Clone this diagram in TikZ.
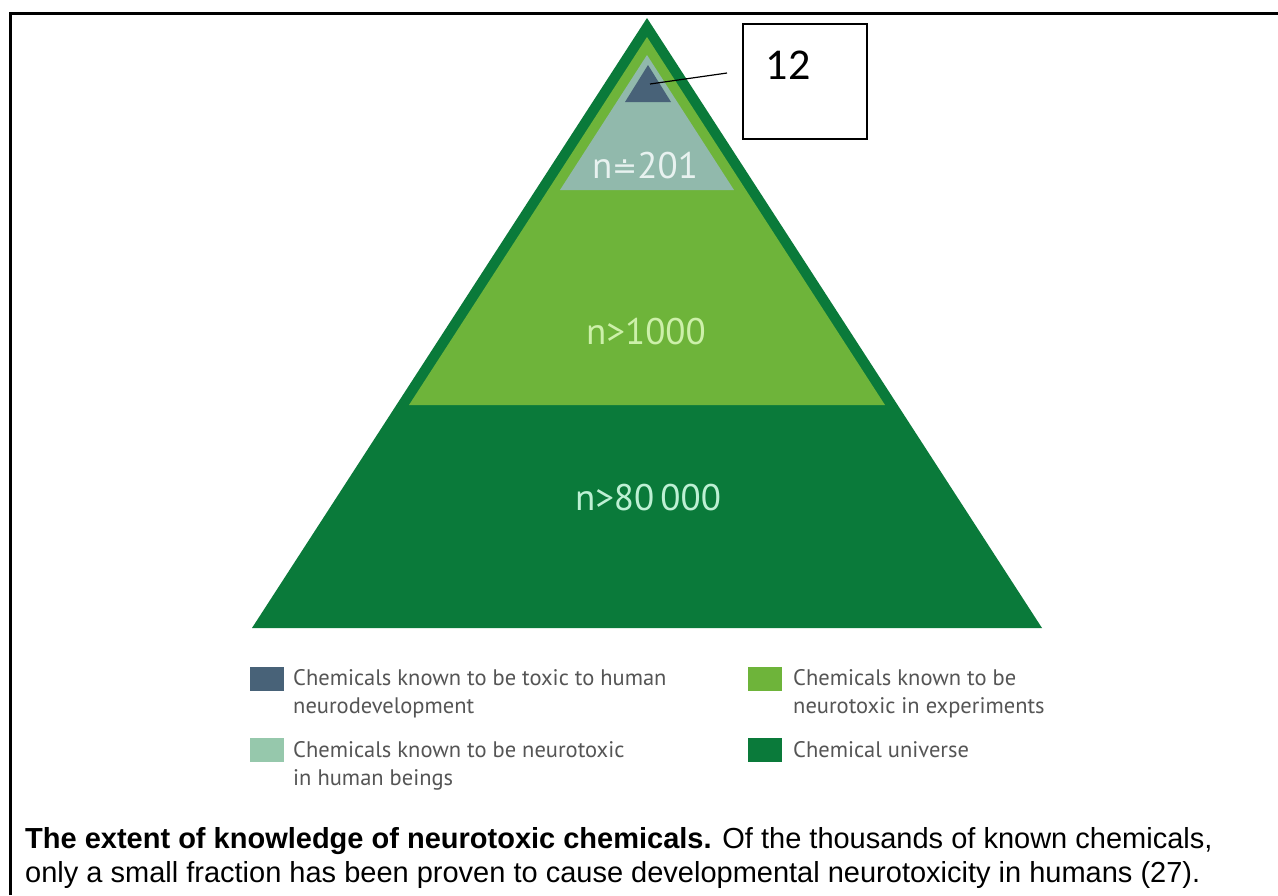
\documentclass[tikz,border=0pt]{standalone}
\usepackage{fontspec}
\setmainfont{Liberation Sans}
\newfontfamily\lfont{PT Sans}
\newfontfamily\cfont{Carlito}
\newfontfamily\dfont{DejaVu Sans}
\definecolor{dkgreen}{RGB}{10,122,58}
\definecolor{ltgreen}{RGB}{110,180,58}
\definecolor{tealgrey}{RGB}{145,185,172}
\definecolor{slate}{RGB}{72,98,120}
\definecolor{mint}{RGB}{150,200,172}
\definecolor{legtext}{RGB}{85,85,85}
\definecolor{txtA}{RGB}{232,242,240}
\definecolor{txtB}{RGB}{205,240,170}
\definecolor{txtC}{RGB}{190,240,212}
\begin{document}
\begin{tikzpicture}[x=1pt,y=-1pt,
  lbl/.style={font=\lfont\fontsize{37}{44}\selectfont, inner sep=0pt},
  legline/.style={font=\lfont\fontsize{22.5}{28}\selectfont, text=legtext, anchor=base west, inner sep=0pt},
  legsq/.style={fill=#1, minimum width=34pt, minimum height=24pt, inner sep=0pt, anchor=north west},
  capline/.style={font=\fontsize{29}{34}\selectfont, text=black, anchor=base west, inner sep=0pt}]
\useasboundingbox (0,0) rectangle (1278,895);
\fill[white] (0,0) rectangle (1278,895);
\draw[line width=3pt] (10,895) -- (10,13) -- (1278,13);
% pyramid
\fill[dkgreen] (647,18) -- (252,628) -- (1042,628) -- cycle;
\fill[ltgreen] (647,37) -- (409,405) -- (885,405) -- cycle;
\fill[tealgrey] (647,55) -- (560,190) -- (734,190) -- cycle;
\fill[slate] (648,65) -- (625,102) -- (671,102) -- cycle;
% labels
\node[lbl, text=txtA] (n201) at (645,166) {n{\dfont\fontsize{30}{36}\selectfont ≐}201};
\node[lbl, text=txtB] (n1000) at (646,332) {n>1000};
\node[lbl, text=txtC] (n80) at (648,498) {n>80\,000};
% callout
\node[draw, line width=1.2pt, minimum width=124pt, minimum height=115pt, inner sep=0pt] (box12) at (805,81.5) {};
\node[font=\cfont\fontsize{44}{50}\selectfont, inner sep=0pt] (t12) at (788,65) {12};
\coordinate (tipin) at (650,84);
\coordinate (tipend) at (727,73);
\draw[line width=1.2pt] (tipin) -- (tipend);
% legend
\node[legsq=slate] (sq1) at (250,667) {};
\node[legline] (l1a) at (293,685) {Chemicals known to be toxic to human};
\node[legline] (l1b) at (293,713) {neurodevelopment};
\node[legsq=mint] (sq2) at (250,738) {};
\node[legline] (l2a) at (293,757) {Chemicals known to be neurotoxic};
\node[legline] (l2b) at (293,785) {in human beings};
\node[legsq=ltgreen] (sq3) at (748,667) {};
\node[legline] (l3a) at (793,685) {Chemicals known to be};
\node[legline] (l3b) at (793,713) {neurotoxic in experiments};
\node[legsq=dkgreen] (sq4) at (748,738) {};
\node[legline] (l4a) at (793,757) {Chemical universe};
% caption
\node[capline] (cap1) at (25,848) {\textbf{The extent of knowledge of neurotoxic chemicals.} Of the thousands of known chemicals,};
\node[capline] (cap2) at (25,882) {only a small fraction has been proven to cause developmental neurotoxicity in humans (27).};
\end{tikzpicture}
\end{document}
